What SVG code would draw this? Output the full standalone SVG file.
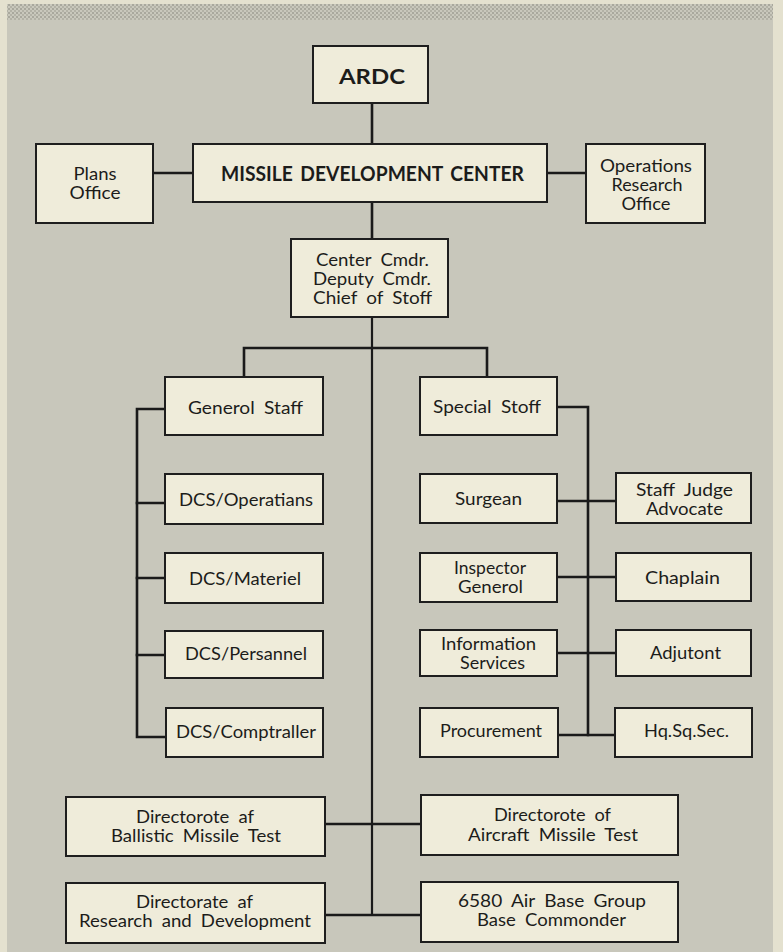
<svg xmlns="http://www.w3.org/2000/svg" width="783" height="952" viewBox="0 0 783 952">
  <defs>
    <pattern id="halftone" width="4" height="4" patternUnits="userSpaceOnUse">
      <rect width="4" height="4" fill="#c9c8bc"/>
      <rect width="2" height="2" fill="#a9a89d"/>
      <rect x="2" y="2" width="2" height="2" fill="#b3b2a6"/>
    </pattern>
    <style>
      .box { fill: #efecda; stroke: #1e1e1e; stroke-width: 2; }
      .ln { fill: none; stroke: #1a1a1a; stroke-width: 2.6; stroke-linecap: square; }
      .trunk { fill: none; stroke: #1a1a1a; stroke-width: 2.2; }
      text { font-family: Lato, "Open Sans", "DejaVu Sans", sans-serif; font-size: 17px; fill: #1c1c1a; text-anchor: middle; word-spacing: 4px; }
      .title { font-weight: bold; font-size: 21px; word-spacing: 3px; }
    </style>
  </defs>

  <!-- paper and printed panel -->
  <rect x="0" y="0" width="783" height="952" fill="#e4e1cf"/>
  <rect x="7" y="4" width="766" height="16" fill="url(#halftone)"/>
  <rect x="7" y="20" width="766" height="932" fill="#c8c7bb"/>

  <!-- connectors -->
  <g id="connectors">
    <path class="ln" d="M372 103 V144"/>
    <path class="ln" d="M153 173 H193"/>
    <path class="ln" d="M547 173 H586"/>
    <path class="ln" d="M372 202 V239"/>
    <path class="trunk" d="M372 317 V915"/>
    <path class="ln" d="M244 377 V348 H487 V377"/>
    <path class="ln" d="M165 409 H137 V737 H166"/>
    <path class="ln" d="M137 503 H165 M137 578 H165 M137 655 H165"/>
    <path class="ln" d="M557 407 H588 V735"/>
    <path class="ln" d="M557 501 H616 M557 577 H616 M557 653 H616 M558 735 H615"/>
    <path class="ln" d="M325 824 H421"/>
    <path class="ln" d="M325 915 H421"/>
  </g>

  <g id="ardc">
    <rect class="box" x="313" y="46" width="115" height="57"/>
    <text class="title" x="372" y="84" font-size="22" textLength="66" lengthAdjust="spacingAndGlyphs">ARDC</text>
  </g>
  <g id="mdc">
    <rect class="box" x="193" y="144" width="354" height="58"/>
    <text class="title" x="372.5" y="181" font-size="20" textLength="303" lengthAdjust="spacingAndGlyphs">MISSILE DEVELOPMENT CENTER</text>
  </g>
  <g id="plans-office">
    <rect class="box" x="36" y="144" width="117" height="79"/>
    <text x="95" y="180" textLength="43" lengthAdjust="spacingAndGlyphs">Plans</text>
    <text x="95" y="199" textLength="51" lengthAdjust="spacingAndGlyphs">Office</text>
  </g>
  <g id="operations-research">
    <rect class="box" x="586" y="144" width="119" height="79"/>
    <text x="646" y="172" textLength="92" lengthAdjust="spacingAndGlyphs">Operations</text>
    <text x="647" y="191" textLength="71" lengthAdjust="spacingAndGlyphs">Research</text>
    <text x="646" y="210" textLength="49" lengthAdjust="spacingAndGlyphs">Office</text>
  </g>
  <g id="command">
    <rect class="box" x="291" y="239" width="157" height="78"/>
    <text x="372.5" y="266" textLength="113" lengthAdjust="spacingAndGlyphs">Center Cmdr.</text>
    <text x="372" y="285" textLength="118" lengthAdjust="spacingAndGlyphs">Deputy Cmdr.</text>
    <text x="372.5" y="304" textLength="119" lengthAdjust="spacingAndGlyphs">Chief of Stoff</text>
  </g>

  <g id="general-staff">
    <rect class="box" x="165" y="377" width="158" height="58"/>
    <text x="245.5" y="414" textLength="115" lengthAdjust="spacingAndGlyphs">Generol Staff</text>
  </g>
  <g id="special-staff">
    <rect class="box" x="420" y="377" width="137" height="58"/>
    <text x="487" y="413" textLength="108" lengthAdjust="spacingAndGlyphs">Special Stoff</text>
  </g>

  <g id="dcs-operations">
    <rect class="box" x="165" y="474" width="158" height="50"/>
    <text x="246" y="506" textLength="134" lengthAdjust="spacingAndGlyphs">DCS/Operatians</text>
  </g>
  <g id="dcs-materiel">
    <rect class="box" x="165" y="553" width="158" height="50"/>
    <text x="245" y="585" textLength="112" lengthAdjust="spacingAndGlyphs">DCS/Materiel</text>
  </g>
  <g id="dcs-personnel">
    <rect class="box" x="165" y="631" width="158" height="47"/>
    <text x="246" y="660" textLength="122" lengthAdjust="spacingAndGlyphs">DCS/Persannel</text>
  </g>
  <g id="dcs-comptroller">
    <rect class="box" x="166" y="708" width="157" height="49"/>
    <text x="246" y="738" textLength="140" lengthAdjust="spacingAndGlyphs">DCS/Comptraller</text>
  </g>

  <g id="surgeon">
    <rect class="box" x="420" y="474" width="137" height="49"/>
    <text x="488.5" y="505" textLength="67" lengthAdjust="spacingAndGlyphs">Surgean</text>
  </g>
  <g id="staff-judge-advocate">
    <rect class="box" x="616" y="473" width="135" height="50"/>
    <text x="684.5" y="496" textLength="97" lengthAdjust="spacingAndGlyphs">Staff Judge</text>
    <text x="684.5" y="515" textLength="77" lengthAdjust="spacingAndGlyphs">Advocate</text>
  </g>
  <g id="inspector-general">
    <rect class="box" x="420" y="553" width="137" height="49"/>
    <text x="490" y="574" textLength="72" lengthAdjust="spacingAndGlyphs">Inspector</text>
    <text x="490.5" y="593" textLength="65" lengthAdjust="spacingAndGlyphs">Generol</text>
  </g>
  <g id="chaplain">
    <rect class="box" x="616" y="553" width="135" height="48"/>
    <text x="682.5" y="584" textLength="75" lengthAdjust="spacingAndGlyphs">Chaplain</text>
  </g>
  <g id="information-services">
    <rect class="box" x="420" y="630" width="137" height="46"/>
    <text x="488.5" y="650" textLength="95" lengthAdjust="spacingAndGlyphs">Information</text>
    <text x="492.5" y="669" textLength="65" lengthAdjust="spacingAndGlyphs">Services</text>
  </g>
  <g id="adjutant">
    <rect class="box" x="616" y="630" width="135" height="46"/>
    <text x="685.5" y="659" textLength="71" lengthAdjust="spacingAndGlyphs">Adjutont</text>
  </g>
  <g id="procurement">
    <rect class="box" x="420" y="708" width="138" height="49"/>
    <text x="491" y="737" textLength="102" lengthAdjust="spacingAndGlyphs">Procurement</text>
  </g>
  <g id="hq-sq-sec">
    <rect class="box" x="615" y="708" width="137" height="49"/>
    <text x="686.5" y="737" textLength="85" lengthAdjust="spacingAndGlyphs">Hq.Sq.Sec.</text>
  </g>

  <g id="ballistic-missile-test">
    <rect class="box" x="66" y="797" width="259" height="59"/>
    <text x="195" y="823" textLength="118" lengthAdjust="spacingAndGlyphs">Directorote af</text>
    <text x="196" y="842" textLength="170" lengthAdjust="spacingAndGlyphs">Ballistic Missile Test</text>
  </g>
  <g id="aircraft-missile-test">
    <rect class="box" x="421" y="795" width="257" height="60"/>
    <text x="552.5" y="821" textLength="117" lengthAdjust="spacingAndGlyphs">Directorote of</text>
    <text x="553" y="841" textLength="170" lengthAdjust="spacingAndGlyphs">Aircraft Missile Test</text>
  </g>
  <g id="research-development">
    <rect class="box" x="66" y="883" width="259" height="60"/>
    <text x="194.5" y="908" textLength="117" lengthAdjust="spacingAndGlyphs">Directorate af</text>
    <text x="195" y="927" textLength="232" lengthAdjust="spacingAndGlyphs">Research and Development</text>
  </g>
  <g id="air-base-group">
    <rect class="box" x="421" y="882" width="257" height="60"/>
    <text x="552" y="907" textLength="188" lengthAdjust="spacingAndGlyphs">6580 Air Base Group</text>
    <text x="551.5" y="926" textLength="149" lengthAdjust="spacingAndGlyphs">Base Commonder</text>
  </g>
</svg>
